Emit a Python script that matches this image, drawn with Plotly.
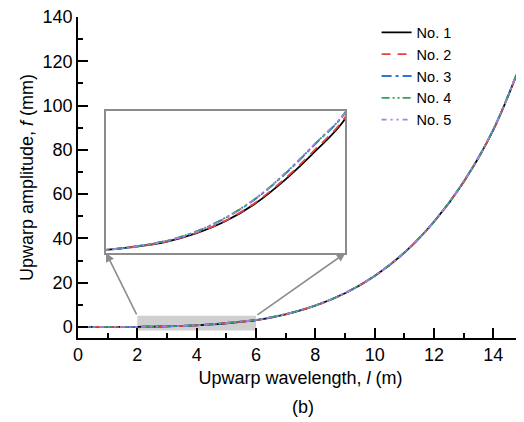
import plotly.graph_objects as go

# ---- data ----
wavelength = [0, 1, 2, 2.5, 3, 3.5, 4, 4.5, 5, 5.5, 6, 7, 8, 9, 10, 11, 12, 13, 14, 15]
no1 = [0, 0.01, 0.07, 0.14, 0.25, 0.44, 0.72, 1.12, 1.66, 2.30, 3.03, 5.70, 9.60, 15.2, 23.0, 33.5, 47.5, 65.5, 89.0, 121.5]
no2 = [0, 0.01, 0.07, 0.14, 0.25, 0.45, 0.73, 1.14, 1.69, 2.34, 3.07, 5.72, 9.62, 15.2, 23.0, 33.5, 47.5, 65.6, 89.1, 121.6]
no3 = [0, 0.01, 0.07, 0.15, 0.27, 0.48, 0.79, 1.22, 1.79, 2.46, 3.17, 5.78, 9.68, 15.3, 23.1, 33.6, 47.6, 65.7, 89.2, 121.7]
no4 = [0, 0.01, 0.07, 0.15, 0.27, 0.48, 0.80, 1.23, 1.80, 2.47, 3.18, 5.78, 9.68, 15.3, 23.1, 33.6, 47.6, 65.7, 89.2, 121.7]
no5 = [0, 0.01, 0.07, 0.15, 0.27, 0.47, 0.79, 1.23, 1.81, 2.48, 3.18, 5.78, 9.68, 15.3, 23.1, 33.6, 47.6, 65.7, 89.2, 121.7]

series_names = ["No. 1", "No. 2", "No. 3", "No. 4", "No. 5"]
series_values = [no1, no2, no3, no4, no5]
series_colors = ["#000000", "#e8413c", "#2f74d9", "#35a058", "#a97de3"]
series_dashes = ["solid", "9px,7px", "10px,4px,3px,4px",
                 "8px,3px,2px,3px,2px,3px", "5px,4px,2px,4px,2px,4px"]

x_ticks = [0, 2, 4, 6, 8, 10, 12, 14]
y_ticks = [0, 20, 40, 60, 80, 100, 120, 140]
x_range = [0, 15]
y_range = [-5, 140.01]
zoom_x = [2, 6]
zoom_y = [-1.6, 5]
inset_y_range = [0, 3.2]

FONT = "Liberation Sans, Arial, sans-serif"

fig = go.Figure()

for name, vals, col, dash in zip(series_names, series_values, series_colors, series_dashes):
    fig.add_trace(go.Scatter(x=wavelength, y=vals, name=name, mode="lines",
                             line=dict(color=col, width=1.8, dash=dash, shape="spline"),
                             xaxis="x", yaxis="y"))
for name, vals, col, dash in zip(series_names, series_values, series_colors, series_dashes):
    fig.add_trace(go.Scatter(x=wavelength, y=vals, name=name, mode="lines", showlegend=False,
                             line=dict(color=col, width=1.8, dash=dash, shape="spline"),
                             xaxis="x2", yaxis="y2"))

inset_dx = [0.063, 0.601]
inset_dy = [0.265, 0.707]

axis_common = dict(showline=True, linecolor="black", linewidth=1.5, showgrid=False,
                   zeroline=False, ticks="inside", ticklen=10, tickwidth=1.5, automargin=False,
                   ticklabeloverflow="allow",
                   tickcolor="black", tickfont=dict(family=FONT, size=18, color="black"))

# page body adds an 8px offset, so the figure is 8px smaller than the window
fig.update_layout(
    width=516, height=414,
    margin=dict(l=70, r=1, t=9, b=84, autoexpand=False),
    paper_bgcolor="white", plot_bgcolor="white",
    font=dict(family=FONT, color="black"),
    xaxis=dict(range=x_range, tickvals=x_ticks, domain=[0, 1],
               minor=dict(ticks="inside", ticklen=5, dtick=1, tick0=0, tickwidth=1.5, tickcolor="black"),
               title=dict(text="Upwarp wavelength, <i>l</i> (m)", font=dict(family=FONT, size=18), standoff=7),
               **axis_common),
    yaxis=dict(range=y_range, tickvals=y_ticks, domain=[0, 1],
               minor=dict(ticks="inside", ticklen=5, dtick=10, tick0=0, tickwidth=1.5, tickcolor="black"),
               title=dict(text="Upwarp amplitude, <i>f</i> (mm)", font=dict(family=FONT, size=18), standoff=4),
               **axis_common),
    xaxis2=dict(range=zoom_x, domain=inset_dx, anchor="y2", showline=True, mirror=True,
                linecolor="#8c8c8c", linewidth=2, showgrid=False, zeroline=False,
                showticklabels=False, ticks="", automargin=False),
    yaxis2=dict(range=inset_y_range, domain=inset_dy, anchor="x2", showline=True, mirror=True,
                linecolor="#8c8c8c", linewidth=2, showgrid=False, zeroline=False,
                showticklabels=False, ticks="", automargin=False),
    legend=dict(x=0.671, y=1.002, xanchor="left", yanchor="top", bgcolor="rgba(0,0,0,0)",
                font=dict(family=FONT, size=14.5, color="black"), tracegroupgap=0,
                itemwidth=30),
    showlegend=True,
)

# gray zoom region
fig.add_shape(type="rect", xref="x", yref="y", x0=zoom_x[0], x1=zoom_x[1],
              y0=zoom_y[0], y1=zoom_y[1], fillcolor="#cfcfcf", line=dict(width=0), layer="below")

# arrows from zoom region to inset corners
corner_y = y_range[0] + (y_range[1] - y_range[0]) * inset_dy[0]
corner_xl = x_range[0] + (x_range[1] - x_range[0]) * inset_dx[0]
corner_xr = x_range[0] + (x_range[1] - x_range[0]) * inset_dx[1]
for cx, tx in [(corner_xl, zoom_x[0]), (corner_xr, zoom_x[1])]:
    fig.add_annotation(x=cx, y=corner_y, ax=tx, ay=zoom_y[1], xref="x", yref="y",
                       axref="x", ayref="y", text="", showarrow=True, arrowhead=2,
                       arrowsize=1.1, arrowwidth=1.6, arrowcolor="#8c8c8c", standoff=0)

fig.add_annotation(text="(b)", xref="paper", yref="paper", x=0.505, y=-0.215,
                   xanchor="center", yanchor="middle", showarrow=False,
                   font=dict(family=FONT, size=18, color="black"))

fig.write_html("out.html")
